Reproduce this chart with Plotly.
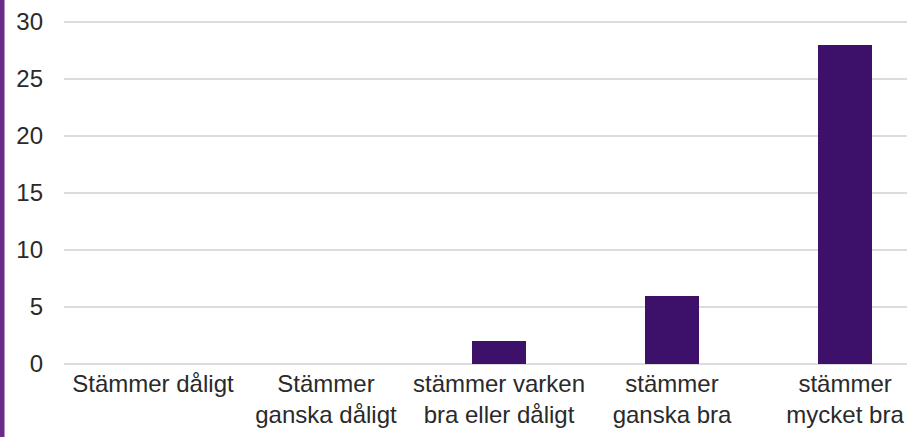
import plotly.graph_objects as go

categories = ["Stämmer dåligt", "Stämmer<br>ganska dåligt", "stämmer varken<br>bra eller dåligt",
              "stämmer<br>ganska bra", "stämmer<br>mycket bra"]
values = [0, 0, 2, 6, 28]
y_ticks = [0, 5, 10, 15, 20, 25, 30]

fig = go.Figure()
fig.add_trace(go.Bar(
    x=list(range(len(categories))), y=values,
    marker=dict(color="#3d1169", line=dict(width=0)),
    width=0.31,
))

fig.update_layout(
    width=917, height=437,
    margin=dict(l=64, r=10, t=21, b=72),
    paper_bgcolor="white", plot_bgcolor="white",
    font=dict(family="Liberation Sans, Arial, sans-serif", size=24, color="#2a2a2a"),
    showlegend=False,
    bargap=0,
    xaxis=dict(
        tickmode="array", tickvals=list(range(len(categories))), ticktext=categories,
        range=[-0.514, 4.358], showgrid=False, zeroline=False, showline=False,
        ticks="", ticklabelstandoff=2, automargin=False,
    ),
    yaxis=dict(
        range=[-0.09, 30.09], tickvals=y_ticks, showgrid=True, gridcolor="#dcdcdc", gridwidth=2,
        zeroline=True, zerolinecolor="#dcdcdc", zerolinewidth=2, showline=False, ticks="",
        ticklabelstandoff=20, automargin=False,
    ),
    shapes=[
        dict(type="line", xref="paper", yref="paper",
             x0=-62/843, x1=-62/843, y0=-80/344, y1=1.1,
             line=dict(color="#6a2a8a", width=5)),
    ],
)
fig.update_yaxes(layer="below traces")
fig.write_html("out.html", config={"displayModeBar": False},
               post_script="document.body.style.margin='0';")
